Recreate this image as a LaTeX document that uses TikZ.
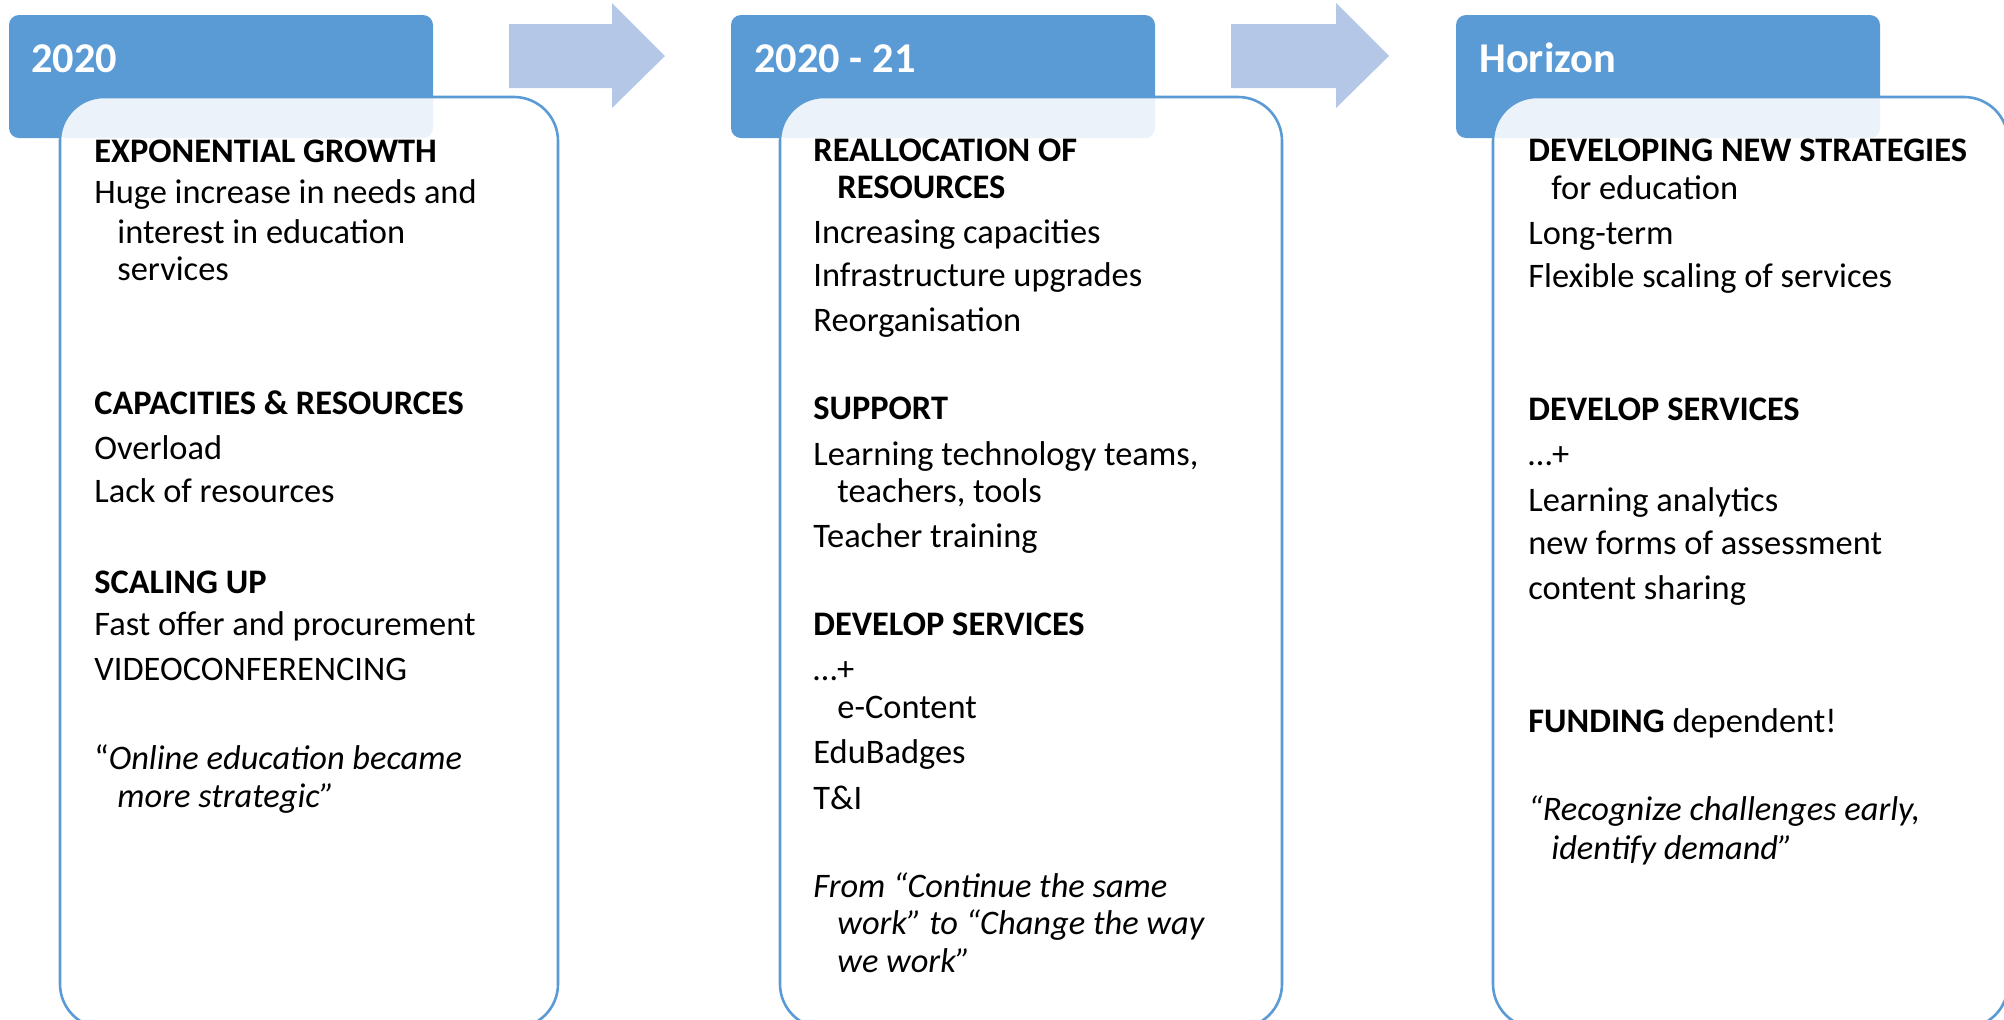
\documentclass[tikz,border=0pt]{standalone}
\usepackage{fontspec}
\setmainfont{Carlito}

\definecolor{hdrblue}{HTML}{5B9BD5}
\definecolor{arrowblue}{HTML}{B4C7E7}

\tikzset{
  header/.style={fill=hdrblue, rounded corners=5pt},
  panel/.style={draw=hdrblue, line width=1.3pt, fill=white, fill opacity=0.88, rounded corners=22pt},
  title/.style={anchor=base west, inner sep=0pt, text=white, font=\fontsize{21.2}{25}\selectfont\bfseries},
  txt/.style={anchor=base west, inner sep=0pt, font=\fontsize{17.2}{20}\selectfont},
}

\begin{document}
\begin{tikzpicture}[x=0.5pt, y=-0.5pt]
\useasboundingbox (0,0) rectangle (2004,1019);
\clip (0,0) rectangle (2004,1019);

% block arrows between the stages
\fill[arrowblue] (509,24) -- (612,24) -- (612,3) -- (665,56) -- (612,108) -- (612,88) -- (509,88) -- cycle;
\fill[arrowblue] (1231,24) -- (1336,24) -- (1336,3) -- (1389,56) -- (1336,108) -- (1336,88) -- (1231,88) -- cycle;

% headers
\fill[header] (9,15) rectangle (433,138);
\fill[header] (731,15) rectangle (1155,138);
\fill[header] (1456,15) rectangle (1880,138);

% panels
\path[panel] (60,97) rectangle (558,1028);
\path[panel] (780,97) rectangle (1282,1028);
\path[panel] (1493,97) rectangle (2008,1028);

\node[title] (h1) at (31,72) {2020};
\node[title] (h2) at (754,72) {2020 - 21};
\node[title] (h3) at (1479,72) {Horizon};

% stage 1
\node[txt] (a1) at (94,162) {\textbf{EXPONENTIAL GROWTH}};
\node[txt] (a2) at (94,203) {Huge increase in needs and};
\node[txt] (a3) at (117,243) {interest in education};
\node[txt] (a4) at (117,280) {services};
\node[txt] (a5) at (94,414) {\textbf{CAPACITIES \& RESOURCES}};
\node[txt] (a6) at (94,459) {Overload};
\node[txt] (a7) at (94,502) {Lack of resources};
\node[txt] (a8) at (94,593) {\textbf{SCALING UP}};
\node[txt] (a9) at (94,635) {Fast offer and procurement};
\node[txt] (a10) at (94,680) {VIDEOCONFERENCING};
\node[txt] (a11) at (94,769) {“\textit{Online education became}};
\node[txt] (a12) at (117,807) {\textit{more strategic”}};

% stage 2
\node[txt] (b1) at (813,161) {\textbf{REALLOCATION OF}};
\node[txt] (b2) at (837,198) {\textbf{RESOURCES}};
\node[txt] (b3) at (813,243) {Increasing capacities};
\node[txt] (b4) at (813,286) {Infrastructure upgrades};
\node[txt] (b5) at (813,331) {Reorganisation};
\node[txt] (b6) at (813,419) {\textbf{SUPPORT}};
\node[txt] (b7) at (813,465) {Learning technology teams,};
\node[txt] (b8) at (837,502) {teachers, tools};
\node[txt] (b9) at (813,547) {Teacher training};
\node[txt] (b10) at (813,635) {\textbf{DEVELOP SERVICES}};
\node[txt] (b11) at (813,680) {…+};
\node[txt] (b12) at (837,718) {e-Content};
\node[txt] (b13) at (813,763) {EduBadges};
\node[txt] (b14) at (813,809) {T\&I};
\node[txt] (b15) at (813,897) {\textit{From “Continue the same}};
\node[txt] (b16) at (837,934) {\textit{work” to “Change the way}};
\node[txt] (b17) at (837,972) {\textit{we work”}};

% stage 3
\node[txt] (c1) at (1528,161) {\textbf{DEVELOPING NEW STRATEGIES}};
\node[txt] (c2) at (1551,199) {for education};
\node[txt] (c3) at (1528,244) {Long-term};
\node[txt] (c4) at (1528,287) {Flexible scaling of services};
\node[txt] (c5) at (1528,420) {\textbf{DEVELOP SERVICES}};
\node[txt] (c6) at (1528,465) {…+};
\node[txt] (c7) at (1528,511) {Learning analytics};
\node[txt] (c8) at (1528,554) {new forms of assessment};
\node[txt] (c9) at (1528,599) {content sharing};
\node[txt] (c10) at (1528,732) {\textbf{FUNDING} dependent!};
\node[txt] (c11) at (1528,820) {\textit{“Recognize challenges early,}};
\node[txt] (c12) at (1551,859) {\textit{identify demand”}};
\end{tikzpicture}
\end{document}
